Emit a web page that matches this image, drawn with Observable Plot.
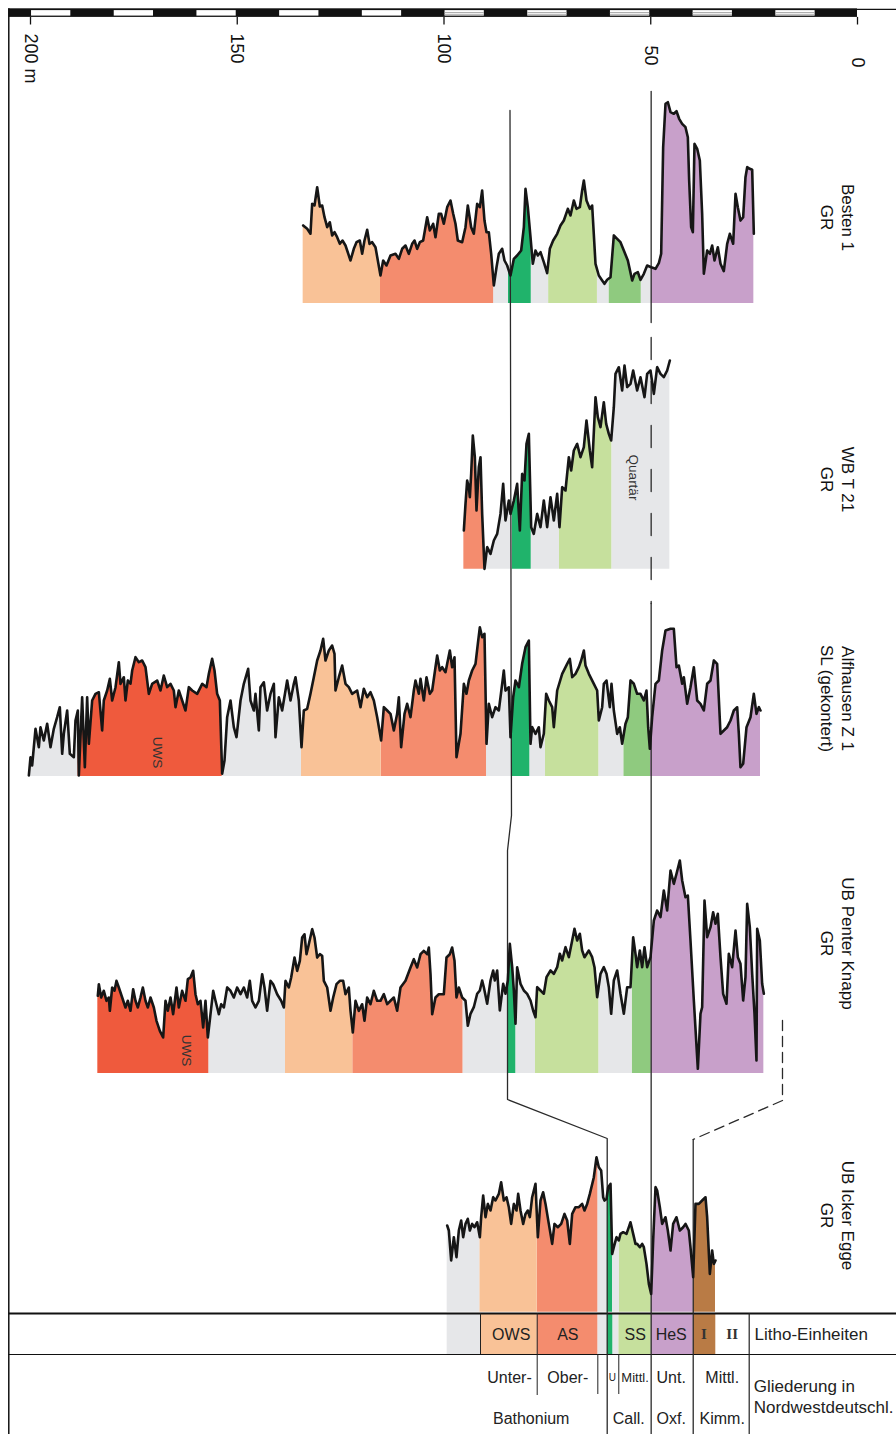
<!DOCTYPE html>
<html><head><meta charset="utf-8">
<script src="https://cdn.jsdelivr.net/npm/d3@7"></script>
<script src="https://cdn.jsdelivr.net/npm/@observablehq/plot@0.6"></script>
<style>html,body{margin:0;padding:0;background:#fff}</style>
</head><body><div id="chart"></div>
<script>
// ---------------- DATA ----------------
// depth scale ticks (m)
const axisTicks = [0, 50, 100, 150, 200];
const axisLabels = ["0", "50", "100", "150", "200 m"];

// Logs: [depth m, log value (relative units)]
const bestenLog = [[134.06,78],[133.09,74.7],[132.29,69.7],[131.88,99.7],[131.32,98],[130.67,116.3],[130.03,97],[129.46,98],[128.90,86.3],[128.25,76.3],[127.61,81.3],[127.05,68],[126.48,71.3],[125.84,66.3],[125.19,59.7],[124.55,63],[123.82,58],[122.61,43],[121.81,54.7],[121.16,61.3],[120.36,63],[119.79,49.7],[119.23,63],[118.58,73.7],[118.02,59.7],[117.37,61.3],[116.57,56.3],[115.36,28],[114.71,43],[113.91,38],[112.94,48],[111.73,49.7],[110.92,44.7],[110.12,54.7],[109.31,58],[108.51,49.7],[107.70,59.7],[107.13,63],[106.49,54.7],[105.84,61.3],[105.04,63],[104.07,86.3],[103.43,73],[102.62,79.7],[102.06,66.3],[101.25,89.7],[100.69,89.7],[100.04,79.7],[99.23,96.3],[98.43,103],[97.78,89.7],[97.22,79.7],[96.66,63],[95.61,61.3],[94.80,76.3],[94.24,98],[93.43,76.3],[92.79,69.7],[91.98,99.7],[91.33,96.3],[90.77,113],[90.21,83],[89.72,71.3],[89.16,71.3],[88.59,49.7],[87.95,18],[87.30,36.3],[86.74,49.7],[85.93,54.7],[85.37,43],[84.72,38],[83.92,28],[83.11,44.7],[82.31,48],[81.34,53],[80.69,76.3],[80.29,114.7],[79.73,96.3],[79.08,66.3],[78.52,39.7],[77.87,53],[77.31,48],[76.66,51.3],[75.86,41.3],[75.05,30.3],[74.41,54.7],[73.60,63],[72.63,69.7],[71.83,78],[71.02,83],[70.05,94.7],[69.41,88],[68.60,103],[67.96,94.7],[67.15,96.3],[66.59,113],[66.18,123],[65.54,103],[64.73,94.7],[64.17,98],[63.36,39.7],[62.56,28],[61.75,23],[61.19,19.7],[60.54,23.7],[59.73,26.3],[58.93,68],[58.12,64.7],[57.32,61.3],[56.51,53],[55.54,43],[54.49,23],[53.93,29.7],[53.12,31.3],[52.48,23.7],[51.67,29.7],[50.87,38],[49.90,36.3],[48.85,34.7],[48.05,40.3],[47.48,49.7],[47.00,156.3],[46.43,199.7],[45.87,201.3],[45.22,191.3],[44.42,189.7],[43.77,192.3],[43.13,184.7],[42.40,179.7],[41.60,176.3],[41.03,166.3],[40.71,123],[40.23,76.3],[39.82,71.3],[39.42,159.7],[38.77,154.7],[38.13,143],[37.57,89.7],[37.16,29.7],[36.36,53],[35.71,49.7],[35.15,58],[34.58,43],[33.78,56.3],[33.13,39.7],[32.33,32.3],[31.52,59.7],[30.87,69.7],[30.07,59.7],[29.50,109.7],[28.94,96.3],[28.30,83],[27.65,86.3],[27.09,126.3],[26.68,136.3],[26.04,134.7],[25.47,133.7],[25.07,69.7]];
const bestenUnits = [[25.07,49.9,"HeS"],[49.9,52.3,"gap"],[52.3,60.1,"MG"],[60.1,62.9,"gap"],[62.9,74.7,"SS"],[74.7,78.9,"gap"],[78.9,84.4,"DG"],[84.4,88.0,"gap"],[88.0,115.36,"AS"],[115.36,134.06,"OWS"]];

const wbLog = [[95.20,38.7],[94.80,65.3],[94.40,88.7],[93.99,82],[93.75,72],[93.43,95.3],[93.03,133.7],[92.54,112],[92.14,58.7],[91.58,102],[91.17,112],[90.77,55.3],[90.21,0.3],[89.56,22],[88.75,15.3],[87.95,28.7],[87.14,35.3],[86.34,55.3],[85.69,85.3],[85.13,48.7],[84.32,68.7],[83.92,55.3],[83.11,68.7],[82.31,85.3],[81.66,38.7],[81.10,95.3],[80.53,88.7],[80.05,125.3],[79.48,135.3],[78.92,42],[78.28,35.3],[77.47,55.3],[76.66,42],[75.86,68.7],[75.05,42],[74.24,72],[73.44,48.7],[72.63,75.3],[72.07,42],[71.42,82],[70.62,78.7],[69.81,112],[69.25,98.7],[68.60,118.7],[67.80,125.3],[66.99,112],[66.18,122],[65.54,148.7],[64.73,118.7],[64.17,102],[63.36,172],[62.80,152],[62.15,142],[61.35,167],[60.78,145.3],[60.14,135.3],[59.57,128.7],[58.93,162],[58.53,195.3],[57.72,202],[56.91,178.7],[56.35,203.7],[55.70,182],[54.90,185.3],[54.25,198.7],[53.29,178.7],[52.48,192],[51.51,172],[50.87,195.3],[50.06,198.7],[49.25,175.3],[48.45,202],[47.64,195.3],[46.84,192],[46.03,198.7],[45.38,208.7]];
const wbUnits = [[45.38,59.42,"gap"],[59.42,72.07,"SS"],[72.07,78.91,"gap"],[78.91,83.51,"DG"],[83.51,90.37,"gap"],[90.37,95.2,"AS"]];

const alfLog = [[200.40,1],[200.0,19.3],[199.6,11],[198.79,47.7],[197.98,29.3],[197.58,49.3],[196.78,36],[195.97,52.7],[195.16,29.3],[194.36,47.7],[193.55,59.3],[192.91,69.3],[192.34,22.7],[191.94,42.7],[191.13,66],[190.49,22.7],[189.52,19.3],[189.12,56],[188.55,66],[188.31,1],[187.51,79.3],[186.86,9.3],[186.30,79.3],[185.89,32.7],[185.09,76],[184.28,82.7],[183.47,84.3],[182.67,46],[182.27,76],[181.46,86],[180.81,97.7],[180.25,76],[179.44,89.3],[178.64,114.3],[178.24,92.7],[177.43,99.3],[177.03,76],[176.46,96],[175.82,92.7],[175.41,106],[174.61,119.3],[173.80,114.3],[172.99,116],[172.19,109.3],[171.38,82.7],[170.58,92.7],[169.37,96],[168.56,86],[167.76,101],[166.95,89.3],[166.14,92.7],[165.34,86],[164.93,69.3],[164.13,86],[163.32,76],[162.52,66],[161.71,89.3],[160.90,86],[159.69,82.7],[158.48,92.7],[157.44,89.3],[156.87,102.7],[156.07,117.7],[155.50,106],[154.86,82.7],[154.21,76],[153.65,2.7],[153.08,16],[152.44,59.3],[151.63,76],[150.83,49.3],[150.18,39.3],[149.21,76],[148.41,92.7],[147.36,107.7],[146.80,76],[145.99,66],[145.59,82.7],[144.78,46],[144.38,89.3],[143.57,94.3],[142.77,66],[141.96,82.7],[141.15,92.7],[140.75,39.3],[139.94,79.3],[139.14,66],[138.33,86],[137.93,96],[137.12,76],[136.32,92.7],[135.91,99.3],[135.11,76],[134.46,29.3],[133.90,66],[133.09,67.7],[132.29,82.7],[131.48,99.3],[130.67,116],[129.87,126],[129.22,137.7],[128.66,116],[127.85,126],[127.05,131],[126.48,122.7],[126.24,86],[125.43,99.3],[124.63,111],[123.82,92.7],[123.02,89.3],[122.21,82.7],[121.00,86],[120.19,69.3],[119.39,87.7],[118.58,79.3],[117.78,84.3],[116.97,76],[116.16,59.3],[115.20,36],[114.55,69.3],[113.74,66],[112.94,62.7],[112.13,46],[111.33,62.7],[110.92,79.3],[110.36,29.3],[109.55,62.7],[108.91,72.7],[108.10,59.3],[107.30,86],[106.89,96],[106.09,82.7],[105.68,97.7],[104.88,76],[104.23,99.3],[103.43,82.7],[102.86,86],[102.06,109.3],[101.65,121],[101.01,106],[100.44,109.3],[99.64,104.3],[99.23,112.7],[98.59,126],[98.03,109.3],[97.46,119.3],[96.98,19.3],[96.01,42.7],[95.20,92.7],[94.56,82.7],[93.99,96],[93.19,106],[92.38,112.7],[91.82,132.7],[91.33,149.3],[90.77,139.3],[90.21,142.7],[89.72,32.7],[89.16,72.7],[88.35,59.3],[87.55,69.3],[86.74,66],[85.93,92.7],[85.53,106],[85.13,86],[84.32,89.3],[83.92,39.3],[83.27,79.3],[82.71,96],[81.90,89.3],[81.10,112.7],[80.29,129.3],[79.48,136],[79.08,32.7],[78.68,49.3],[77.87,42.7],[77.07,49.3],[76.66,29.3],[75.86,42.7],[75.29,82.7],[74.65,76],[73.84,69.3],[73.44,49.3],[72.63,86],[71.42,102.7],[70.21,112.7],[69.57,117.7],[69.00,99.3],[68.20,102.7],[67.39,109.3],[66.83,116],[66.18,126],[65.78,111],[64.97,102.7],[63.76,92.7],[62.96,86],[62.56,56],[61.75,69.3],[61.35,92.7],[60.70,96],[59.90,69.3],[59.49,92.7],[58.93,66],[58.12,42.7],[57.48,49.3],[56.91,32.7],[56.11,52.7],[55.54,59.3],[54.90,96],[54.09,92.7],[53.29,82.7],[52.48,82.7],[51.67,76],[51.03,86],[50.62,49.3],[50.22,27.7],[49.66,59.3],[48.85,92.7],[48.05,96],[47.24,126],[46.43,146],[45.22,147.7],[44.42,147.7],[43.77,109.3],[43.21,111],[42.40,92.7],[42.00,99.3],[41.19,72.7],[40.39,89.3],[39.58,109.3],[38.77,76],[37.97,72.7],[37.16,66],[36.36,92.7],[35.55,96],[34.74,116],[33.94,112.7],[33.13,42.7],[32.33,46],[31.52,49.3],[30.71,56],[29.91,66],[29.10,69.3],[28.70,42.7],[28.30,9.3],[27.65,12.7],[26.84,49.3],[25.88,59.3],[25.07,82.7],[24.43,62.7],[23.86,69.3],[23.46,66]];
const alfUnits = [[23.46,50.06,"HeS"],[50.06,56.52,"MG"],[56.52,62.56,"gap"],[62.56,75.45,"SS"],[75.45,79.25,"gap"],[79.25,83.75,"DG"],[83.75,89.72,"gap"],[89.72,115.19,"AS"],[115.19,134.46,"OWS"],[134.46,153.64,"gap"],[153.64,188.56,"UWS"],[188.56,200.41,"gap"]];

const penterLog = [[183.72,77.7],[183.47,89.3],[182.91,76],[182.27,82.7],[181.62,72.7],[181.06,76],[180.81,62.7],[180.25,86],[179.69,82.7],[179.20,92.7],[178.64,86],[177.83,76],[177.03,66],[176.46,72.7],[175.82,62.7],[175.17,84.3],[174.61,72.7],[174.04,66],[173.40,76],[172.83,86],[172.19,72.7],[171.62,66],[170.98,76],[170.17,66],[169.53,52.7],[168.72,42.7],[167.92,36],[167.35,72.7],[166.79,62.7],[166.14,76],[165.50,59.3],[164.69,86],[164.13,66],[163.32,82.7],[162.52,72.7],[161.95,94.3],[161.31,96],[160.66,102.7],[160.10,79.3],[159.53,69.3],[158.89,72.7],[158.24,46],[157.68,72.7],[157.11,36],[156.47,59.3],[155.82,82.7],[155.26,72.7],[154.45,59.3],[153.89,69.3],[153.24,66],[152.44,86],[151.63,82.7],[150.83,76],[150.02,86],[149.21,79.3],[148.41,86],[147.60,76],[146.96,92.7],[146.39,72.7],[145.59,66],[144.78,72.7],[143.97,99.3],[143.41,86],[142.77,62.7],[141.96,92.7],[141.31,89.3],[140.35,79.3],[139.38,72.7],[138.73,66],[138.33,92.7],[137.53,86],[136.96,96],[136.15,116],[135.51,102.7],[134.86,112.7],[134.30,136],[133.74,139.3],[133.25,119.3],[132.69,129.3],[131.88,144.3],[131.32,136],[130.67,116],[130.03,119.3],[129.46,117.7],[129.06,92.7],[128.25,86],[127.45,62.7],[126.80,76],[126.00,89.3],[125.19,92.7],[124.39,92.7],[123.82,79.3],[123.02,86],[122.61,62.7],[122.05,41],[121.40,72.7],[120.60,62.7],[119.79,69.3],[119.23,52.7],[118.58,76],[117.78,69.3],[116.97,82.7],[116.16,72.7],[115.36,72.7],[114.55,79.3],[113.74,69.3],[112.94,72.7],[112.13,76],[111.33,62.7],[110.52,86],[109.31,92.7],[108.10,106],[107.30,114.3],[106.49,106],[105.68,119.3],[104.88,122.7],[104.07,119.3],[103.67,126],[103.26,99.3],[102.86,59.3],[102.06,76],[101.25,79.3],[100.04,79.3],[99.40,116],[98.59,119.3],[98.03,126],[97.46,112.7],[96.98,76],[96.41,86],[95.61,76],[94.80,72.7],[94.24,47.7],[93.59,59.7],[92.79,66.3],[91.98,79.7],[91.33,83],[90.77,93],[90.37,86.3],[89.56,69.7],[88.75,93],[88.11,103],[87.71,93],[87.14,103],[86.50,63],[85.69,89.7],[85.13,79.7],[84.56,93],[84.08,129.7],[83.51,106.3],[83.11,83],[82.71,49.7],[82.31,106.3],[81.50,89.7],[80.69,83],[79.89,79.7],[79.08,73],[78.44,63],[77.87,56.3],[77.47,86.3],[76.66,83],[75.86,79.7],[75.21,96.3],[74.24,103],[73.44,99.7],[72.63,106.3],[71.99,119.7],[71.42,113],[70.62,126.3],[69.81,116.3],[69.00,133],[68.44,144.7],[67.80,133],[67.15,139.7],[66.59,123],[66.02,116.3],[64.97,123],[64.17,116.3],[63.60,106.3],[62.96,76.3],[62.15,99.7],[61.35,106.3],[60.70,99.7],[60.14,86.3],[59.57,59.7],[58.93,93],[58.12,103],[57.32,79.7],[56.51,59.7],[55.70,86.3],[54.90,86.3],[54.25,136.3],[53.69,119.7],[53.29,106.3],[52.64,123],[52.08,106.3],[51.51,126.3],[50.87,106.3],[50.06,116.3],[49.25,153],[48.45,163],[47.64,156.3],[46.84,183],[46.03,163],[45.22,203],[44.42,189.7],[43.77,199.7],[42.97,213],[42.40,193],[41.60,176.3],[41.03,178],[40.39,133],[39.58,73],[38.61,4.7],[37.97,59.7],[37.57,66.3],[37.00,173],[36.36,136.3],[35.55,146.3],[34.91,161.3],[34.34,149.7],[33.78,159.7],[33.13,116.3],[32.49,79.7],[31.68,69.7],[31.12,119.7],[30.31,106.3],[29.50,143],[28.94,116.3],[28.30,109.7],[27.65,73],[27.09,96.3],[26.68,169.7],[26.04,146.3],[25.47,99.7],[24.91,59.7],[24.43,13],[24.26,144.7],[23.62,133],[23.06,89.7],[22.65,79.7]];
const penterUnits = [[22.65,49.89,"HeS"],[49.89,54.49,"MG"],[54.49,62.56,"gap"],[62.56,77.87,"SS"],[77.87,82.64,"gap"],[82.64,84.57,"DG"],[84.57,95.41,"gap"],[95.41,122.06,"AS"],[122.06,138.33,"OWS"],[138.33,156.88,"gap"],[156.88,183.72,"UWS"]];

const ickerLog = [[99.23,86.7],[98.83,81.7],[98.27,51.7],[97.62,75],[96.98,55],[96.41,81.7],[95.85,91.7],[95.36,75],[94.80,88.3],[94.24,93.3],[93.75,81.7],[93.19,88.3],[92.62,85],[91.98,90],[91.33,75],[91.01,95],[90.53,116.7],[89.96,95],[89.40,108.3],[88.75,101.7],[88.11,115],[87.55,111.7],[86.74,118.3],[86.18,130],[85.53,111.7],[84.88,115],[84.32,105],[83.76,88.3],[83.11,108.3],[82.47,101.7],[82.06,118.3],[81.50,101.7],[80.85,88.3],[80.29,98.3],[79.73,101.7],[79.24,95],[78.68,115],[77.87,128.3],[77.31,75],[76.66,111.7],[76.02,120],[75.45,108.3],[74.65,88.3],[73.84,68.3],[73.28,88.3],[72.47,85],[71.66,88.3],[70.86,98.3],[70.21,91.7],[69.57,68.3],[69.00,98.3],[68.20,105],[67.39,105],[66.59,108.3],[66.02,101.7],[65.38,108.3],[64.73,118.3],[63.76,135],[63.12,155],[62.56,145],[61.99,141.7],[61.51,115],[61.19,111.7],[60.70,113.3],[60.30,125],[59.73,128.3],[59.33,58.3],[58.93,65],[58.28,75],[57.72,71.7],[57.32,78.3],[56.67,80],[55.86,78.3],[55.30,85],[54.90,90],[54.25,78.3],[53.69,68.3],[53.29,68.3],[52.64,65],[52.08,68.3],[51.67,65],[51.03,48.3],[50.46,28.3],[49.90,18.3],[49.42,71.7],[48.85,125],[48.45,121.7],[47.80,105],[47.24,88.3],[46.43,95],[45.87,81.7],[45.22,61.7],[44.58,88.3],[43.77,95],[42.97,81.7],[42.16,85],[41.60,88.3],[40.79,81.7],[40.39,65],[39.74,35],[39.18,108.3],[38.37,108.3],[37.57,111.7],[36.76,115],[36.36,95],[35.71,38.3],[35.15,61.7],[34.74,48.3],[34.34,51.7]];
const ickerUnits = [[34.34,39.73,"I"],[39.73,49.89,"HeS"],[49.89,57.56,"SS"],[57.56,59.25,"gap"],[59.25,60.53,"DG"],[60.53,62.80,"gap"],[62.80,77.46,"AS"],[77.46,91.34,"OWS"],[91.34,99.23,"gap"]];

// Litho-Einheiten row
const lithoCells = [[26.19,34.27,"II"],[34.27,39.73,"I"],[39.73,49.89,"HeS"],[49.89,57.73,"SS"],[57.73,59.18,"gap"],[59.18,60.53,"DG"],[60.53,62.80,"gap"],[62.80,77.46,"AS"],[77.46,91.17,"OWS"],[91.17,99.23,"gap"]];
const lithoLabels = [["OWS",83.75],["AS",70.06],["SS",53.76],["HeS",45.05]];
const lithoRoman = [["I",37.17],["II",30.30]];
const gliederungTop = [["Unter-",84.16,16],["Ober-",70.06,16],["U",59.3,10],["Mittl.",53.8,13],["Unt.",45.05,16],["Mittl.",32.72,16]];
const gliederungBottom = [["Bathonium",78.91],["Call.",55.31],["Oxf.",45.05],["Kimm.",32.72]];

const wellNames = ["Besten 1", "WB T 21", "Alfhausen Z 1", "UB Penter Knapp", "UB Icker Egge"];
const wellLogTypes = ["GR", "GR", "SL (gekontert)", "GR", "GR"];

// ---------------- LAYOUT / STYLE ----------------
const W = 896, H = 1434;
const colors = {OWS:"#f9c297", AS:"#f48c6e", UWS:"#ef5a3d", DG:"#20b36b", SS:"#c6e09d", MG:"#8fca7f", HeS:"#c8a0ca", I:"#b97b45", II:"#ffffff", gap:"#e6e7e9"};
const wellBase = [303, 568.7, 776, 1073, 1311.7];
const wellTitleY = [217, 479, 698, 943, 1215];
const labelTop = [57, 45, 33, 33, 33];
const FONT = "'Liberation Sans', Arial, Helvetica, sans-serif";
const ink = "#161616";

const logs = [bestenLog, wbLog, alfLog, penterLog, ickerLog].map(l => l.map(([d, v]) => ({d, v})).sort((a, b) => a.d - b.d));
const unitsAll = [bestenUnits, wbUnits, alfUnits, penterUnits, ickerUnits];

function valueAt(log, d) {
  if (d <= log[0].d) return log[0].v;
  for (let i = 0; i < log.length - 1; i++) {
    const a = log[i], b = log[i + 1];
    if (d >= a.d && d <= b.d) return b.d === a.d ? a.v : a.v + (b.v - a.v) * (d - a.d) / (b.d - a.d);
  }
  return log[log.length - 1].v;
}

const marks = [];
// fills
logs.forEach((log, i) => {
  const base = wellBase[i];
  unitsAll[i].forEach(([a, b, u]) => {
    const lo = Math.min(a, b), hi = Math.max(a, b);
    const seg = [{d: lo, v: valueAt(log, lo)}, ...log.filter(p => p.d > lo && p.d < hi), {d: hi, v: valueAt(log, hi)}];
    marks.push(Plot.areaY(seg, {x: "d", y1: base, y2: p => base - p.v, fill: colors[u]}));
  });
});

// litho table cells
marks.push(Plot.rect(lithoCells, {x1: d => d[0], x2: d => d[1], y1: 1313, y2: 1354, fill: d => colors[d[2]]}));

// scale bar
marks.push(Plot.rect([[205.25, 0]], {x1: d => d[0], x2: d => d[1], y1: 8.3, y2: 16.9, fill: "#111"}));
const whiteSegs = d3.range(10, 200, 20);
marks.push(Plot.rect(whiteSegs, {x1: d => d + 0.25, x2: d => d + 9.75, y1: 10.1, y2: 15.6, fill: "#fff"}));
const hatched = whiteSegs.filter(d => d < 100);
marks.push(Plot.ruleY(hatched.flatMap(d => [{d, y: 12.0}, {d, y: 13.8}]), {y: "y", x1: p => p.d + 0.25, x2: p => p.d + 9.75, stroke: "#9a9a9a", strokeWidth: 0.8}));
marks.push(Plot.ruleY([8.8], {x1: 0, x2: -9.5, stroke: "#111", strokeWidth: 1.2}));
marks.push(Plot.ruleX(axisTicks, {y1: 16.9, y2: 24.5, stroke: "#111", strokeWidth: 1.3}));
marks.push(Plot.text(axisTicks, {x: d => d, y: (d, i) => labelTop[i], text: (d, i) => axisLabels[i], rotate: 90, textAnchor: "start", lineAnchor: "middle", fontSize: 18, fontFamily: FONT, fill: "#111"}));

// frame and table lines
marks.push(Plot.ruleX([205.25], {y1: 8.3, y2: H, stroke: "#111", strokeWidth: 1.5}));
marks.push(Plot.ruleY([1313], {x1: 205.25, x2: -9.5, stroke: "#111", strokeWidth: 2.2}));
marks.push(Plot.ruleY([1354], {x1: 205.25, x2: -9.5, stroke: "#111", strokeWidth: 1}));
marks.push(Plot.ruleX([91.17], {y1: 1313, y2: 1354, stroke: "#222", strokeWidth: 1}));
marks.push(Plot.ruleX([77.46], {y1: 1313, y2: 1395, stroke: "#222", strokeWidth: 1}));
marks.push(Plot.ruleX([62.80, 57.73], {y1: 1354, y2: 1394, stroke: "#222", strokeWidth: 1}));
marks.push(Plot.ruleX([26.19], {y1: 1313, y2: H, stroke: "#222", strokeWidth: 1.2}));

// correlation lines
const lineStyle = {x: d => d[0], y: d => d[1], stroke: "#2a2a2a", strokeWidth: 1.3};
marks.push(Plot.line([[49.9, 91], [49.9, 322]], lineStyle));
marks.push(Plot.line([[49.9, 322], [49.9, 603]], {...lineStyle, strokeDasharray: "22,22", strokeDashoffset: -15}));
marks.push(Plot.line([[49.9, 603], [49.9, H]], lineStyle));
marks.push(Plot.line([[84.04, 110], [83.68, 815], [84.64, 850], [84.64, 1099], [60.53, 1138], [60.53, H]], lineStyle));
marks.push(Plot.line([[18.14, 1020], [18.14, 1100], [39.73, 1139]], {...lineStyle, strokeDasharray: "10,6"}));
marks.push(Plot.line([[39.73, 1139], [39.73, H]], lineStyle));

// log curves
logs.forEach((log, i) => {
  const base = wellBase[i];
  marks.push(Plot.line(log, {x: "d", y: p => base - p.v, stroke: ink, strokeWidth: 2.6, strokeLinejoin: "round"}));
});

// well titles
marks.push(Plot.text(wellNames, {x: 2.4, y: (d, i) => wellTitleY[i], text: d => d, rotate: 90, fontSize: 17, fontFamily: FONT, fill: "#111"}));
marks.push(Plot.text(wellLogTypes, {x: 7.5, y: (d, i) => wellTitleY[i], text: d => d, rotate: 90, fontSize: 17, fontFamily: FONT, fill: "#111"}));

// in-log labels
marks.push(Plot.text([["Quartär", 54.2, 477], ["UWS", 169.3, 752], ["UWS", 162.3, 1050]], {x: d => d[1], y: d => d[2], text: d => d[0], rotate: 90, fontSize: 13.5, fontFamily: FONT, fill: "#333"}));

// table texts
marks.push(Plot.text(lithoLabels, {x: d => d[1], y: 1334, text: d => d[0], fontSize: 16, fontFamily: FONT, fill: "#222"}));
marks.push(Plot.text(lithoRoman, {x: d => d[1], y: 1334, text: d => d[0], fontSize: 15, fontWeight: "bold", fontFamily: "'Liberation Serif', 'Times New Roman', serif", fill: "#333"}));
marks.push(Plot.text(["Litho-Einheiten"], {x: 24.9, y: 1334, text: d => d, textAnchor: "start", fontSize: 17, fontFamily: FONT, fill: "#222"}));
marks.push(Plot.text(gliederungTop, {x: d => d[1], y: 1377, text: d => d[0], fontSize: d => d[2], fontFamily: FONT, fill: "#222"}));
marks.push(Plot.text(gliederungBottom, {x: d => d[1], y: 1418, text: d => d[0], fontSize: 16, fontFamily: FONT, fill: "#222"}));
marks.push(Plot.text(["Gliederung in", "Nordwestdeutschl."], {x: 25.1, y: (d, i) => [1386, 1407][i], text: d => d, textAnchor: "start", fontSize: 17, fontFamily: FONT, fill: "#222"}));

const chart = Plot.plot({
  width: W, height: H,
  margin: 0,
  style: {background: "#fff", fontFamily: FONT, overflow: "visible"},
  x: {domain: [0, 200], range: [857, 30], axis: null},
  y: {domain: [0, H], range: [0, H], axis: null},
  marks
});
document.getElementById("chart").appendChild(chart);
</script></body></html>
